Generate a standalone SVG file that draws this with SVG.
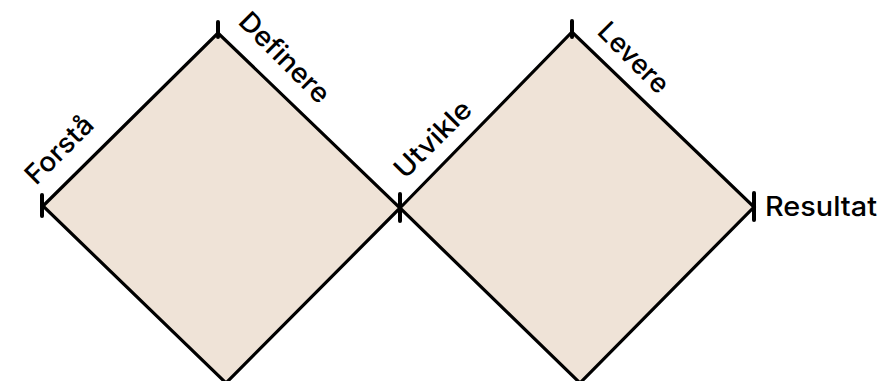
<svg xmlns="http://www.w3.org/2000/svg" width="887" height="381" viewBox="0 0 887 381">
  <style>
    .diamond { fill: #efe3d7; stroke: #000; stroke-width: 3.2; stroke-linejoin: miter; }
    .tick { stroke: #000; stroke-width: 4; stroke-linecap: round; }
    .label { font-family: Inter, "Open Sans", "Liberation Sans", sans-serif; font-size: 27px; font-weight: 500; fill: #000; }
  </style>
  <rect width="887" height="381" fill="#ffffff"/>
  <g id="diamond-left">
    <polygon class="diamond" points="43,206 218,33 400,208 226,383"/>
  </g>
  <g id="diamond-right">
    <polygon class="diamond" points="400,208 572,32 754,207 580,383"/>
  </g>
  <g id="connectors">
    <line class="tick" x1="42" y1="195" x2="42" y2="216"/>
    <line class="tick" x1="218" y1="22" x2="218" y2="37"/>
    <line class="tick" x1="400" y1="194" x2="400" y2="221"/>
    <line class="tick" x1="572" y1="21" x2="572" y2="37"/>
    <line class="tick" x1="754" y1="193" x2="754" y2="220"/>
  </g>
  <g id="label-forsta">
    <text class="label" transform="translate(36,186) rotate(-45)" textLength="84" lengthAdjust="spacingAndGlyphs">Forstå</text>
  </g>
  <g id="label-definere">
    <text class="label" transform="translate(237,23) rotate(45)" textLength="116" lengthAdjust="spacingAndGlyphs">Definere</text>
  </g>
  <g id="label-utvikle">
    <text class="label" transform="translate(405,180) rotate(-45)" textLength="97" lengthAdjust="spacingAndGlyphs">Utvikle</text>
  </g>
  <g id="label-levere">
    <text class="label" transform="translate(596,33) rotate(45)" textLength="88" lengthAdjust="spacingAndGlyphs">Levere</text>
  </g>
  <g id="label-resultat">
    <text class="label" x="765" y="216" textLength="112" lengthAdjust="spacingAndGlyphs">Resultat</text>
  </g>
</svg>
